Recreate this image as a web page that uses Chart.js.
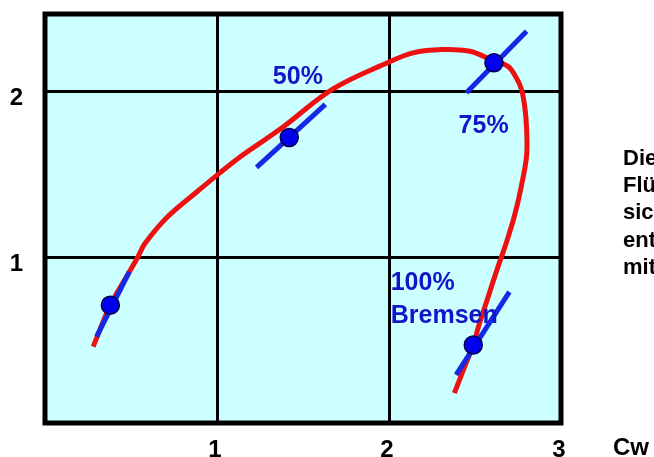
<!DOCTYPE html>
<html>
<head>
<meta charset="utf-8">
<script src="https://cdn.jsdelivr.net/npm/chart.js@4.4.1/dist/chart.umd.min.js"></script>
<style>
  html, body { margin: 0; padding: 0; background: #fff; }
</style>
</head>
<body>
<canvas id="polarChart" width="654" height="457"></canvas>
<script>
// polar curve (Cw on x, Ca on y)
const curveX = [0.28, 0.38, 0.49, 0.54, 0.58, 0.71, 0.88, 1.02, 1.13, 1.38, 1.67, 1.99, 2.14, 2.31, 2.47, 2.57, 2.69, 2.74, 2.77, 2.79, 2.80, 2.80, 2.77, 2.73, 2.68, 2.63, 2.57, 2.52, 2.49, 2.44, 2.38];
const curveY = [0.46, 0.71, 0.91, 1.00, 1.08, 1.24, 1.39, 1.51, 1.60, 1.78, 2.01, 2.17, 2.23, 2.25, 2.24, 2.20, 2.15, 2.08, 2.01, 1.90, 1.77, 1.61, 1.43, 1.25, 1.08, 0.93, 0.74, 0.58, 0.47, 0.34, 0.18];

// marked settings on the polar
const dotX = [0.38, 1.42, 2.61, 2.49];
const dotY = [0.71, 1.72, 2.17, 0.47];

// short tangent strokes through each marked setting
const tangentX = [[0.30, 0.49], [1.23, 1.63], [2.45, 2.80], [2.39, 2.70]];
const tangentY = [[0.52, 0.91], [1.54, 1.92], [1.99, 2.36], [0.29, 0.79]];

const xTicks = [1, 2, 3];
const yTicks = [1, 2];

const noteTexts = ['50%', '75%', '100%', 'Bremsen'];
const noteX = [1.47, 2.55, 2.01, 2.01];
const noteY = [2.04, 1.75, 0.80, 0.60];

const sideText = ['Die', 'Flü', 'sic', 'ent', 'mit'];

const FONT = '"Liberation Sans", Arial, sans-serif';

const toPoints = (xs, ys) => xs.map((x, i) => ({ x: x, y: ys[i] }));

const datasets = [{
  label: 'Stellungen',
  data: toPoints(dotX, dotY),
  showLine: false,
  pointRadius: 9,
  pointBackgroundColor: '#0000f0',
  pointBorderColor: '#00004a',
  pointBorderWidth: 1.5,
  order: 1
}];
tangentX.forEach((xs, i) => {
  datasets.push({
    label: 'Tangente ' + (i + 1),
    data: toPoints(xs, tangentY[i]),
    showLine: true,
    borderColor: '#1428e6',
    borderWidth: 5,
    pointRadius: 0,
    order: 2
  });
});
datasets.push({
  label: 'Polare',
  data: toPoints(curveX, curveY),
  showLine: true,
  borderColor: '#ee1111',
  borderWidth: 5,
  pointRadius: 0,
  tension: 0.35,
  order: 3
});

const framePlugin = {
  id: 'frame',
  beforeDraw(chart) {
    const { ctx, chartArea: a } = chart;
    ctx.save();
    ctx.fillStyle = '#ccffff';
    ctx.fillRect(a.left, a.top, a.right - a.left, a.bottom - a.top);
    ctx.restore();
  },
  beforeDatasetsDraw(chart) {
    const { ctx, chartArea: a } = chart;
    ctx.save();
    ctx.strokeStyle = '#000';
    ctx.lineWidth = 5;
    ctx.strokeRect(a.left, a.top, a.right - a.left, a.bottom - a.top);
    ctx.restore();
  },
  afterDraw(chart) {
    const { ctx, scales } = chart;
    ctx.save();
    ctx.fillStyle = '#1515c8';
    ctx.font = 'bold 25px ' + FONT;
    ctx.textBaseline = 'alphabetic';
    noteTexts.forEach((t, i) => {
      ctx.textAlign = i < 2 ? 'center' : 'left';
      ctx.fillText(t, scales.x.getPixelForValue(noteX[i]), scales.y.getPixelForValue(noteY[i]));
    });
    // axis name and the side text (cut off at the right edge)
    ctx.fillStyle = '#000';
    ctx.textAlign = 'left';
    ctx.font = 'bold 24px ' + FONT;
    ctx.fillText('Cw', 613, 455);
    ctx.font = 'bold 22px ' + FONT;
    sideText.forEach((t, i) => ctx.fillText(t, 623, 165 + i * 27.2));
    ctx.restore();
  }
};

new Chart(document.getElementById('polarChart'), {
  type: 'scatter',
  data: { datasets: datasets },
  options: {
    responsive: false,
    animation: false,
    layout: { padding: { top: 14, right: 93, left: 0, bottom: 0 } },
    plugins: { legend: { display: false }, tooltip: { enabled: false } },
    scales: {
      x: {
        type: 'linear',
        min: 0,
        max: 3,
        afterFit: s => { s.height = 34; s.paddingLeft = 0; s.paddingRight = 0; },
        afterBuildTicks: s => { s.ticks = [0].concat(xTicks).map(v => ({ value: v })); },
        grid: { color: '#000', lineWidth: 3, drawTicks: false },
        border: { display: false },
        ticks: {
          padding: 13,
          labelOffset: -2,
          color: '#000',
          font: { family: FONT, size: 24, weight: 'bold' },
          callback: v => (xTicks.includes(v) ? String(v) : '')
        }
      },
      y: {
        type: 'linear',
        min: 0,
        max: 2.464,
        afterFit: s => { s.width = 45; s.paddingTop = 0; s.paddingBottom = 0; },
        afterBuildTicks: s => { s.ticks = [0].concat(yTicks).map(v => ({ value: v })); },
        grid: { color: '#000', lineWidth: 3, drawTicks: false },
        border: { display: false },
        ticks: {
          padding: 22,
          labelOffset: 7,
          color: '#000',
          font: { family: FONT, size: 24, weight: 'bold' },
          callback: v => (yTicks.includes(v) ? String(v) : '')
        }
      }
    }
  },
  plugins: [framePlugin]
});
</script>
</body>
</html>
